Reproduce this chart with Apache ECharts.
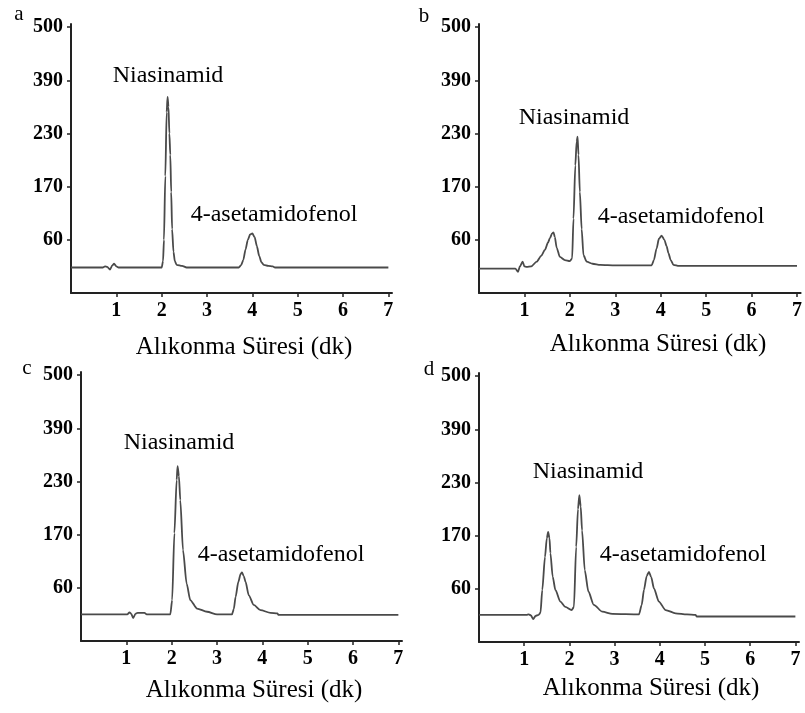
<!DOCTYPE html>
<html>
<head>
<meta charset="utf-8">
<script src="https://cdn.jsdelivr.net/npm/echarts@6/dist/echarts.min.js"></script>
<style>html,body{margin:0;padding:0;background:#fff}#c{width:805px;height:713px}</style>
</head>
<body>
<div id="c"></div>
<script>
// Y tick labels (evenly spaced on the axis, as in the original figure)
const yTickLabels = ['60', '170', '230', '390', '500'];
const yTickValues = [1, 2, 3, 4, 5];
const xTickValues = [1, 2, 3, 4, 5, 6, 7];
const panelLetters = ['a', 'b', 'c', 'd'];
const peakName1 = 'Niasinamid';
const peakName2 = '4-asetamidofenol';
const xAxisTitle = 'Alıkonma Süresi (dk)';

// Chromatograms: [time (dk), signal in axis-tick units]
const seriesA = [[0,0.48],[0.70,0.48],[0.75,0.50],[0.80,0.49],[0.86,0.44],[0.91,0.52],[0.95,0.55],[1.0,0.50],[1.05,0.48],[2.0,0.48],[2.03,0.6],[2.05,1.0],[2.08,2.2],[2.11,3.4],[2.13,3.69],[2.15,3.5],[2.17,3.0],[2.19,2.6],[2.21,1.9],[2.23,1.2],[2.26,0.78],[2.29,0.6],[2.33,0.53],[2.45,0.51],[2.55,0.48],[3.70,0.48],[3.75,0.52],[3.80,0.62],[3.85,0.82],[3.90,1.0],[3.95,1.1],[4.00,1.12],[4.05,1.05],[4.10,0.88],[4.15,0.70],[4.20,0.58],[4.25,0.53],[4.35,0.51],[4.45,0.50],[4.50,0.48],[7.0,0.48]];
const seriesB = [[0,0.46],[0.80,0.46],[0.86,0.40],[0.90,0.50],[0.96,0.59],[1.0,0.50],[1.05,0.49],[1.15,0.50],[1.27,0.59],[1.37,0.70],[1.45,0.81],[1.52,0.95],[1.56,1.03],[1.61,1.12],[1.64,1.14],[1.67,1.05],[1.71,0.85],[1.78,0.68],[1.89,0.62],[2.0,0.60],[2.05,0.65],[2.08,1.4],[2.12,2.4],[2.15,2.85],[2.17,2.94],[2.19,2.6],[2.22,1.9],[2.26,1.2],[2.30,0.71],[2.37,0.59],[2.50,0.55],[2.67,0.53],[3.0,0.52],[3.80,0.52],[3.85,0.62],[3.91,0.84],[3.96,1.02],[4.02,1.08],[4.08,1.0],[4.13,0.88],[4.17,0.75],[4.22,0.62],[4.28,0.53],[4.40,0.51],[7.0,0.51]];
const seriesC = [[0,0.50],[1.02,0.50],[1.07,0.54],[1.11,0.51],[1.15,0.43],[1.20,0.51],[1.25,0.53],[1.40,0.53],[1.45,0.50],[1.97,0.50],[2.01,0.77],[2.06,2.03],[2.11,3.03],[2.13,3.29],[2.16,3.1],[2.19,2.65],[2.25,1.71],[2.33,1.08],[2.41,0.77],[2.56,0.61],[2.78,0.55],[3.0,0.50],[3.33,0.50],[3.37,0.60],[3.41,0.83],[3.47,1.11],[3.52,1.26],[3.55,1.29],[3.59,1.22],[3.63,1.11],[3.70,0.86],[3.81,0.68],[3.96,0.58],[4.18,0.53],[4.33,0.52],[4.36,0.49],[7.0,0.49]];
const seriesD = [[0,0.51],[1.05,0.51],[1.10,0.52],[1.15,0.50],[1.20,0.43],[1.25,0.49],[1.32,0.51],[1.36,0.55],[1.40,0.98],[1.46,1.60],[1.50,1.95],[1.53,2.07],[1.56,1.95],[1.58,1.67],[1.63,1.23],[1.69,0.98],[1.80,0.76],[1.91,0.66],[2.05,0.60],[2.10,0.66],[2.15,1.79],[2.19,2.5],[2.22,2.76],[2.25,2.55],[2.28,2.1],[2.34,1.35],[2.42,0.95],[2.54,0.70],[2.73,0.57],[2.95,0.53],[3.54,0.52],[3.60,0.70],[3.65,0.98],[3.71,1.24],[3.76,1.32],[3.81,1.22],[3.87,1.01],[3.98,0.76],[4.13,0.60],[4.35,0.54],[4.60,0.52],[4.79,0.51],[4.82,0.48],[7.0,0.48]];

const allSeries = [seriesA, seriesB, seriesC, seriesD];

const FONT = '"Liberation Serif", "Times New Roman", serif';
// axis extents slightly past the last tick, as in the original
const X_MAX = 7.08, Y_MAX = 5.06;
const grids = [
  {left: 71, top: 24, width: 321, height: 269},
  {left: 479, top: 24, width: 322, height: 269},
  {left: 81, top: 372, width: 321, height: 269},
  {left: 479, top: 373, width: 320, height: 269}
];
// text layout per panel
const textPos = [
  {L:[19,14], P1:[168,76], P2:[274,215], T:[244,347]},
  {L:[424,16], P1:[574,118], P2:[681,217], T:[658,344]},
  {L:[27,368], P1:[179,443], P2:[281,555], T:[254,690]},
  {L:[429,369], P1:[588,472], P2:[683,555], T:[651,688]}
];

const xAxes = [], yAxes = [], series = [], graphics = [];
for (let i = 0; i < 4; i++) {
  xAxes.push({
    type: 'value', gridIndex: i, min: 0, max: X_MAX,
    axisLine: {show: true, onZero: false, lineStyle: {color: '#222', width: 2}},
    axisTick: {show: true, length: 4, lineStyle: {color: '#222', width: 1.5}, customValues: xTickValues},
    axisLabel: {color: '#000', fontFamily: FONT, fontWeight: 'bold', fontSize: 20, margin: 8, customValues: xTickValues},
    splitLine: {show: false}
  });
  yAxes.push({
    type: 'value', gridIndex: i, min: 0, max: Y_MAX,
    axisLine: {show: true, onZero: false, lineStyle: {color: '#222', width: 2}},
    axisTick: {show: true, length: 4, lineStyle: {color: '#222', width: 1.5}, customValues: yTickValues},
    axisLabel: {color: '#000', fontFamily: FONT, fontWeight: 'bold', fontSize: 20, margin: 8,
      customValues: yTickValues,
      formatter: v => yTickLabels[yTickValues.indexOf(Math.round(v))] || ''},
    splitLine: {show: false}
  });
  series.push({
    type: 'line', xAxisIndex: i, yAxisIndex: i, data: allSeries[i],
    showSymbol: false, smooth: 0.25, smoothMonotone: 'x',
    lineStyle: {color: '#4a4a4a', width: 1.8}
  });
  const tp = textPos[i];
  const mk = (txt, p, size) => ({
    type: 'text', x: p[0], y: p[1],
    style: {text: txt, font: size + 'px ' + FONT, fill: '#000', textAlign: 'center', textVerticalAlign: 'middle'}
  });
  graphics.push(mk(panelLetters[i], tp.L, 21));
  graphics.push(mk(peakName1, tp.P1, 24));
  graphics.push(mk(peakName2, tp.P2, 24));
  graphics.push(mk(xAxisTitle, tp.T, 25));
}

const chart = echarts.init(document.getElementById('c'), null, {renderer: 'canvas'});
chart.setOption({
  animation: false,
  backgroundColor: '#fff',
  grid: grids.map(g => Object.assign({containLabel: false}, g)),
  xAxis: xAxes, yAxis: yAxes, series: series, graphic: graphics
});
</script>
</body>
</html>
